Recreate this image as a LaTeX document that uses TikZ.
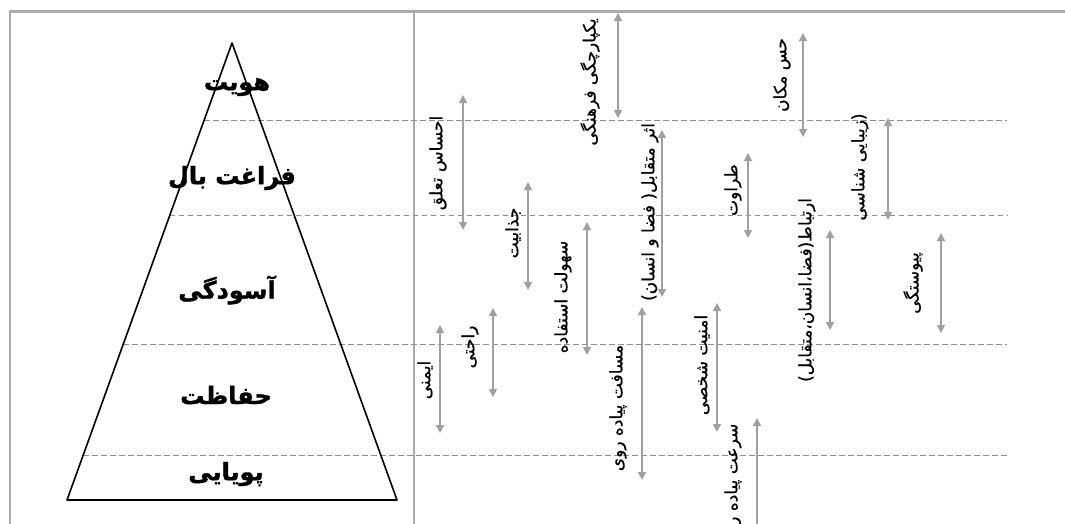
\documentclass[tikz,border=0pt]{standalone}
\usepackage{fontspec}
\usetikzlibrary{arrows.meta}
\newfontfamily\arabicfont[Script=Arabic,BoldFeatures={FakeBold=1.5}]{DejaVu Sans}
\newfontfamily\arabicfac[Script=Arabic,FakeBold=0.6]{DejaVu Sans}
\TeXXeTstate=1
\definecolor{arrgray}{HTML}{A0A0A0}
\definecolor{dashgray}{HTML}{8E8E8E}
\definecolor{framegray}{HTML}{ABABAB}
\tikzset{
	lvl/.style={font=\arabicfont\bfseries\fontsize{24}{28}\selectfont,inner sep=0pt},
	fac/.style={font=\arabicfac\fontsize{17}{20}\selectfont,rotate=90,inner sep=0pt},
	rangearrow/.style={draw=arrgray,line width=1.8pt,{Triangle[length=8pt,width=8pt]}-{Triangle[length=8pt,width=8pt]}},
	uparrow/.style={draw=arrgray,line width=1.8pt,{Triangle[length=8pt,width=8pt]}-},
	levelline/.style={draw=dashgray,line width=0.8pt,dash pattern=on 5.5pt off 3.5pt}
}
\begin{document}
\begin{tikzpicture}[x=1pt,y=-1pt,line join=round]
				\useasboundingbox (0,0) rectangle (1065,523);
				\path
				(232,43) coordinate (A)
				(67,500) coordinate (L)
				(397,500) coordinate (R)
				(414,11) coordinate (S1)
				(414,530) coordinate (S2)
				;
				% frame and separator
				\draw[framegray,line width=2pt] (10,530) -- (10,11);
				\draw[framegray,line width=3pt] (9,11) -- (1070,11);
				\draw[framegray,line width=1.5pt] (S1) -- (S2);
				% level lines
				\foreach \y in {120,215,344,455}{
					\pgfmathsetmacro{\xl}{232-(\y-43)*0.3611}
					\path (\xl,\y) coordinate (p\y) (1007,\y) coordinate (q\y);
					\draw[levelline] (p\y) -- (q\y);
				}
				\draw[line width=1.6pt] (A)--(L)--(R)--cycle;
				\node[lvl] (hoviyat) at (237,87) {\beginR هویت\endR};
				\node[lvl] (faraghat) at (232,178) {\beginR فراغت بال\endR};
				\node[lvl] (asudegi) at (227,290) {\beginR آسودگی\endR};
				\node[lvl] (hefazat) at (226,395) {\beginR حفاظت\endR};
				\node[lvl] (pouyayi) at (226,474) {\beginR پویایی\endR};
				% factors: label x/y, arrow x, top, bottom
				\foreach \n/\lx/\ly/\ax/\ya/\yb/\t in {
					taaloq/438/163/463/95/230/احساس تعلق,
					jazabiyat/513/233/528/182/290/جذابیت,
					farhangi/590/82/618/13/118/یکپارچگی فرهنگی,
					sohulat/563/297/587/222/355/سهولت استفاده,
					asar/650/212/662/130/297/اثر متقابل( فضا و انسان),
					imeni/425/380/440/325/433/ایمنی,
					rahati/470/347/493/308/397/راحتی,
					masafat/618/408/642/307/480/مسافت پیاده روی,
					amniyat/702/365/717/303/432/امنیت شخصی,
					hess/782/75/803/33/137/حس مکان,
					taravat/733/190/748/153/238/طراوت,
					zibayi/860/167/888/118/220/(زیبایی شناسی,
					ertebat/807/290/830/230/330/ارتباط(فضا،انسان،متقابل),
					peyvastegi/913/283/941/233/333/پیوستگی}{
					\node[fac] (\n) at (\lx,\ly) {\beginR\t\endR};
					\path (\ax,\ya) coordinate (\n-t) (\ax,\yb) coordinate (\n-b);
					\draw[rangearrow] (\n-t) -- (\n-b);
				}
				\node[fac] (sorat) at (733,485) {\beginR سرعت پیاده روی\endR};
				\path (757,418) coordinate (sorat-t) (757,535) coordinate (sorat-b);
				\draw[uparrow] (sorat-t) -- (sorat-b);
			\end{tikzpicture}
\end{document}
